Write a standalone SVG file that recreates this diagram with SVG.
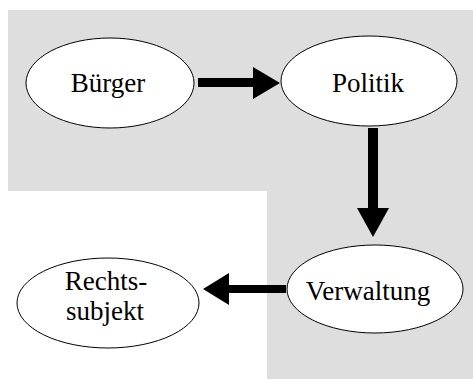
<svg xmlns="http://www.w3.org/2000/svg" width="473" height="379" viewBox="0 0 473 379">
<style>
.node{fill:#fff;stroke:#000;stroke-width:1}
.lbl{font-family:"Liberation Serif","Times New Roman",serif;font-size:27px;fill:#000;text-anchor:middle}
.arr{fill:#000}
</style>
<rect width="473" height="379" fill="#fff"/>
<path d="M8,10 H473 V379 H267 V191 H8 Z" fill="#dedede"/>
<g id="connectors">
<path class="arr" d="M198,78 H253 V67 L280,83 L253,99 V87 H198 Z"/>
<path class="arr" d="M368,128 H378 V208 H389 L373,237 L357,208 H368 Z"/>
<path class="arr" d="M286,285 V293 H229 V305 L203,289 L229,273 V285 Z"/>
</g>
<g id="buerger">
<ellipse class="node" cx="110" cy="83" rx="84" ry="45"/>
<text class="lbl" x="108" y="92">Bürger</text>
</g>
<g id="politik">
<ellipse class="node" cx="369" cy="81" rx="88" ry="45"/>
<text class="lbl" x="368" y="92">Politik</text>
</g>
<g id="verwaltung">
<ellipse class="node" cx="375" cy="289" rx="88" ry="44"/>
<text class="lbl" x="368" y="300">Verwaltung</text>
</g>
<g id="rechtssubjekt">
<ellipse class="node" cx="108" cy="303" rx="91" ry="45"/>
<text class="lbl" x="106" y="290">Rechts-</text>
<text class="lbl" x="105" y="320">subjekt</text>
</g>
</svg>
